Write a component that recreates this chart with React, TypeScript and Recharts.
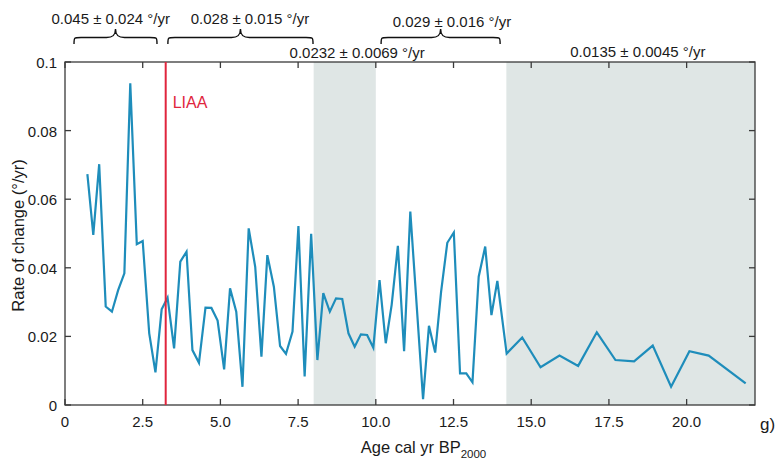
import React from "react";
import {
  LineChart,
  Line,
  XAxis,
  YAxis,
  ReferenceArea,
  ReferenceLine,
} from "recharts";

// ---- data ----
const ages: number[] = [
  0.72, 0.91, 1.1, 1.31, 1.51, 1.71, 1.91, 2.1, 2.31, 2.5, 2.71, 2.91, 3.11, 3.3,
  3.51, 3.71, 3.91, 4.1, 4.31, 4.52, 4.71, 4.91, 5.12, 5.31, 5.51, 5.71, 5.91,
  6.12, 6.32, 6.51, 6.72, 6.92, 7.11, 7.32, 7.51, 7.71, 7.92, 8.12, 8.31, 8.52,
  8.72, 8.92, 9.12, 9.32, 9.52, 9.72, 9.92, 10.12, 10.32, 10.51, 10.71, 10.91,
  11.11, 11.52, 11.71, 11.91, 12.1, 12.3, 12.51, 12.71, 12.91, 13.11, 13.31,
  13.52, 13.72, 13.91, 14.21, 14.71, 15.3, 15.91, 16.51, 17.11, 17.71, 18.31,
  18.91, 19.5, 20.09, 20.71, 21.9,
];
const rates: number[] = [
  0.0673, 0.0496, 0.0702, 0.0287, 0.0272, 0.0335, 0.0384, 0.0938, 0.0469,
  0.0478, 0.0209, 0.0095, 0.0279, 0.0313, 0.0165, 0.0418, 0.0447, 0.016, 0.0123,
  0.0284, 0.0283, 0.0246, 0.0104, 0.034, 0.0272, 0.0053, 0.0515, 0.0403, 0.0141,
  0.0437, 0.0345, 0.0172, 0.0149, 0.0214, 0.0522, 0.0083, 0.0499, 0.0131,
  0.0326, 0.0272, 0.0311, 0.0309, 0.0209, 0.017, 0.0206, 0.0204, 0.0167, 0.0364,
  0.018, 0.0292, 0.0464, 0.0157, 0.0564, 0.0017, 0.0231, 0.0153, 0.033, 0.0473,
  0.0503, 0.0092, 0.0092, 0.0066, 0.0374, 0.0462, 0.0262, 0.0362, 0.015, 0.0197,
  0.011, 0.0144, 0.0114, 0.0212, 0.0131, 0.0127, 0.0173, 0.0053, 0.0157, 0.0144,
  0.0063,
];
const xTicks: number[] = [0, 2.5, 5, 7.5, 10, 12.5, 15, 17.5, 20];
const yTicks: number[] = [0, 0.02, 0.04, 0.06, 0.08, 0.1];
const xDomain: [number, number] = [0, 22.2];
const yDomain: [number, number] = [0, 0.1];

const shadeStarts: number[] = [8.0, 14.2];
const shadeEnds: number[] = [10.0, 22.2];
const shadeLabels: string[] = ["0.0232 ± 0.0069 °/yr", "0.0135 ± 0.0045 °/yr"];
const shadeLabelAges: number[] = [9.4, 18.43];

const braceStarts: number[] = [0.29, 3.31, 10.17];
const braceEnds: number[] = [2.96, 7.98, 14.0];
const braceLabels: string[] = [
  "0.045 ± 0.024 °/yr",
  "0.028 ± 0.015 °/yr",
  "0.029 ± 0.016 °/yr",
];
const braceLabelAges: number[] = [1.47, 5.95, 12.45];

const liaaAge = 3.24;
const liaaLabel = "LIAA";

const data = ages.map((a, i) => ({ age: a, rate: rates[i] }));

// ---- styles ----
const FONT = "'Liberation Sans', Arial, Helvetica, sans-serif";
const AXIS = "#3a3a3a";
const TEXT = "#1a1a1a";
const LINE = "#1e8dbb";
const SHADE = "#dfe6e5";
const RED = "#e0253d";
const TICK_LEN = 6;

const fmtX = (v: number) => (v === 0 ? "0" : v.toFixed(1));
const fmtY = (v: number) => (v === 0 ? "0" : String(+v.toFixed(2)));

const BottomTick = (p: any) => (
  <text x={p.x} y={p.y + 21.5} textAnchor="middle" fontSize={15} fontFamily={FONT} fill={TEXT}>
    {fmtX(p.payload.value)}
  </text>
);
const LeftTick = (p: any) => (
  <text x={p.x - 8} y={p.y + 6} textAnchor="end" fontSize={15} fontFamily={FONT} fill={TEXT}>
    {fmtY(p.payload.value)}
  </text>
);

// inward tick marks drawn at both ends of a reference line
const VTickShape = (p: any) => {
  const top = Math.min(p.y1, p.y2);
  const bot = Math.max(p.y1, p.y2);
  return (
    <g>
      <line x1={p.x1} y1={top} x2={p.x1} y2={top + TICK_LEN} stroke={AXIS} strokeWidth={1.3} />
      <line x1={p.x1} y1={bot} x2={p.x1} y2={bot - TICK_LEN} stroke={AXIS} strokeWidth={1.3} />
    </g>
  );
};
const HTickShape = (p: any) => {
  const l = Math.min(p.x1, p.x2);
  const r = Math.max(p.x1, p.x2);
  return (
    <g>
      <line x1={l} y1={p.y1} x2={l + TICK_LEN} y2={p.y1} stroke={AXIS} strokeWidth={1.3} />
      <line x1={r} y1={p.y1} x2={r - TICK_LEN} y2={p.y1} stroke={AXIS} strokeWidth={1.3} />
    </g>
  );
};

const BoxShape = (p: any) => (
  <rect x={p.x} y={p.y} width={p.width} height={p.height} fill="none" stroke={AXIS} strokeWidth={1.3} />
);

const BraceShape = (p: any) => {
  const x1 = p.x;
  const x2 = p.x + p.width;
  const top = p.y;
  const yb = top - 18;
  const ym = top - 24.5;
  const yt = top - 33;
  const xm = (x1 + x2) / 2;
  const d = `M${x1},${yb} C${x1},${ym} ${x1},${ym} ${x1 + 7},${ym} L${xm - 9},${ym} C${xm - 3},${ym} ${xm},${ym - 2} ${xm},${yt} C${xm},${ym - 2} ${xm + 3},${ym} ${xm + 9},${ym} L${x2 - 7},${ym} C${x2},${ym} ${x2},${ym} ${x2},${yb}`;
  return <path d={d} fill="none" stroke="#111" strokeWidth={1.4} />;
};

const braceLabelDy = [-38, -38, -35.5];
const shadeLabelDy = [-4, -5.3];

const XTitle = (p: any) => {
  const vb = p.viewBox;
  const cx = vb.x + vb.width / 2 + 13.5;
  return (
    <g>
      <text x={cx} y={vb.y + 47.5} textAnchor="middle" fontSize={16.5} fontFamily={FONT} fill={TEXT}>
        Age cal yr BP
        <tspan fontSize={11.5} dy={5.5}>2000</tspan>
      </text>
      <text x={vb.x + vb.width + 5} y={vb.y + 25} fontSize={17} fontFamily={FONT} fill={TEXT}>
        g)
      </text>
    </g>
  );
};

const YTitle = (p: any) => {
  const vb = p.viewBox;
  const cy = vb.y + vb.height / 2 + 2;
  const cx = 23.5;
  return (
    <text
      x={cx}
      y={cy}
      transform={`rotate(-90 ${cx} ${cy})`}
      textAnchor="middle"
      fontSize={16.5}
      fontFamily={FONT}
      fill={TEXT}
    >
      Rate of change (°/yr)
    </text>
  );
};

export default function App() {
  return (
    <div style={{ position: "fixed", left: 0, top: 0, width: 775, height: 461, background: "#fff" }}>
      <LineChart
        width={775}
        height={461}
        data={data}
        margin={{ top: 62, right: 20, bottom: 26, left: 20 }}
      >
        <XAxis
          dataKey="age"
          type="number"
          domain={xDomain}
          ticks={xTicks}
          interval={0}
          allowDataOverflow
          height={30}
          tickSize={0}
          tickMargin={0}
          tickLine={false}
          axisLine={false}
          tick={BottomTick}
          label={XTitle}
        />
        <YAxis
          type="number"
          domain={yDomain}
          ticks={yTicks}
          interval={0}
          allowDataOverflow
          width={45}
          tickSize={0}
          tickMargin={0}
          tickLine={false}
          axisLine={false}
          tick={LeftTick}
          label={YTitle}
        />
        {shadeStarts.map((s, i) => (
          <ReferenceArea
            key={"shade" + i}
            x1={s}
            x2={shadeEnds[i]}
            fill={SHADE}
            fillOpacity={1}
            stroke="none"
          />
        ))}
        <ReferenceArea x1={xDomain[0]} x2={xDomain[1]} y1={yDomain[0]} y2={yDomain[1]} shape={BoxShape} />
        {braceStarts.map((s, i) => (
          <ReferenceArea
            key={"brace" + i}
            x1={s}
            x2={braceEnds[i]}
            ifOverflow="visible"
            shape={BraceShape}
          />
        ))}
        {xTicks.map((t) => (
          <ReferenceLine key={"xt" + t} x={t} ifOverflow="visible" shape={VTickShape} />
        ))}
        {yTicks.map((t) => (
          <ReferenceLine key={"yt" + t} y={t} ifOverflow="visible" shape={HTickShape} />
        ))}
        {braceLabelAges.map((a, i) => (
          <ReferenceLine
            key={"bl" + i}
            x={a}
            stroke="none"
            ifOverflow="visible"
            label={(p: any) => (
              <text
                x={p.viewBox.x}
                y={p.viewBox.y + braceLabelDy[i]}
                textAnchor="middle"
                fontSize={15}
                fontFamily={FONT}
                fill={TEXT}
              >
                {braceLabels[i]}
              </text>
            )}
          />
        ))}
        {shadeLabelAges.map((a, i) => (
          <ReferenceLine
            key={"sl" + i}
            x={a}
            stroke="none"
            ifOverflow="visible"
            label={(p: any) => (
              <text
                x={p.viewBox.x}
                y={p.viewBox.y + shadeLabelDy[i]}
                textAnchor="middle"
                fontSize={15}
                fontFamily={FONT}
                fill={TEXT}
              >
                {shadeLabels[i]}
              </text>
            )}
          />
        ))}
        <Line
          type="linear"
          dataKey="rate"
          stroke={LINE}
          strokeWidth={2.2}
          dot={false}
          activeDot={false}
          isAnimationActive={false}
        />
        <ReferenceLine
          x={liaaAge}
          stroke={RED}
          strokeWidth={2}
          label={(p: any) => (
            <text
              x={p.viewBox.x + 7}
              y={p.viewBox.y + 46}
              fontSize={16}
              fontFamily={FONT}
              fill={RED}
            >
              {liaaLabel}
            </text>
          )}
        />
      </LineChart>
    </div>
  );
}
